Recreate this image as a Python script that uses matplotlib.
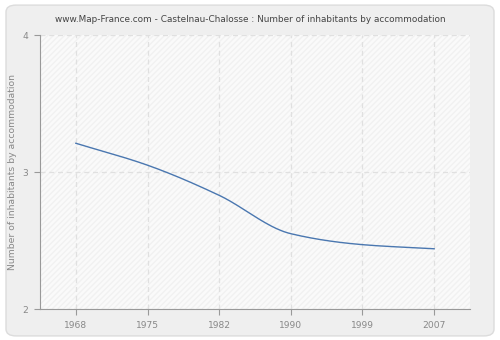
import numpy as np
import matplotlib.pyplot as plt
from matplotlib.patches import FancyBboxPatch

years = ['1968', '1975', '1982', '1990', '1999', '2007']
inhabitants = [3.21, 3.05, 2.83, 2.55, 2.47, 2.44]
y_ticks = [2, 3, 4]


# Monotone cubic (Fritsch-Carlson) for the smooth line
def monotone_curve(x, y, n=300):
    x = np.asarray(x, float)
    y = np.asarray(y, float)
    h = np.diff(x)
    d = np.diff(y) / h
    m = np.zeros_like(y)
    m[0], m[-1] = d[0], d[-1]
    for i in range(1, len(x) - 1):
        if d[i - 1] * d[i] > 0:
            w1 = 2 * h[i] + h[i - 1]
            w2 = h[i] + 2 * h[i - 1]
            m[i] = (w1 + w2) / (w1 / d[i - 1] + w2 / d[i])
    xs = np.linspace(x[0], x[-1], n)
    idx = np.clip(np.searchsorted(x, xs) - 1, 0, len(x) - 2)
    t = (xs - x[idx]) / h[idx]
    h00 = 2 * t**3 - 3 * t**2 + 1
    h10 = t**3 - 2 * t**2 + t
    h01 = -2 * t**3 + 3 * t**2
    h11 = t**3 - t**2
    ys = h00 * y[idx] + h10 * h[idx] * m[idx] + h01 * y[idx + 1] + h11 * h[idx] * m[idx + 1]
    return xs, ys


fig = plt.figure(figsize=(5, 3.4), dpi=100, facecolor='white')
panel = FancyBboxPatch((0.012, 0.012), 0.976, 0.973, boxstyle="round,pad=0,rounding_size=0.02",
                       transform=fig.transFigure, facecolor='#efefef', edgecolor='#dcdcdc', lw=1,
                       zorder=-10)
fig.add_artist(panel)

ax = fig.add_axes([0.08, 0.091, 0.86, 0.806])
ax.set_facecolor('#fafafa')
ax.patch.set_hatch('//////')
ax.patch.set_edgecolor('#f1f1f1')
ax.patch.set_linewidth(0)

pos = np.arange(len(years))
xs, ys = monotone_curve(pos, inhabitants)
ax.plot(xs, ys, color='#4a77b0', lw=1)

ax.set_xlim(-0.5, len(years) - 0.5)
ax.set_ylim(2, 4)
ax.set_xticks(pos)
ax.set_xticklabels(years)
ax.set_yticks(y_ticks)
ax.grid(True, color='#e0e0e0', linestyle=(0, (4, 3)), lw=0.9)
ax.set_axisbelow(True)

for s in ['top', 'right']:
    ax.spines[s].set_visible(False)
for s in ['left', 'bottom']:
    ax.spines[s].set_color('#999999')
ax.tick_params(colors='#999999', labelcolor='#888888', labelsize=6.6, length=4.5, pad=4)

ax.set_ylabel('Number of inhabitants by accommodation', fontsize=6.7, color='#888888', labelpad=4)
fig.text(0.5, 0.935, 'www.Map-France.com - Castelnau-Chalosse : Number of inhabitants by accommodation',
         ha='center', fontsize=6.4, color='#444444')

fig.savefig('out.png', dpi=100, facecolor=fig.get_facecolor())
